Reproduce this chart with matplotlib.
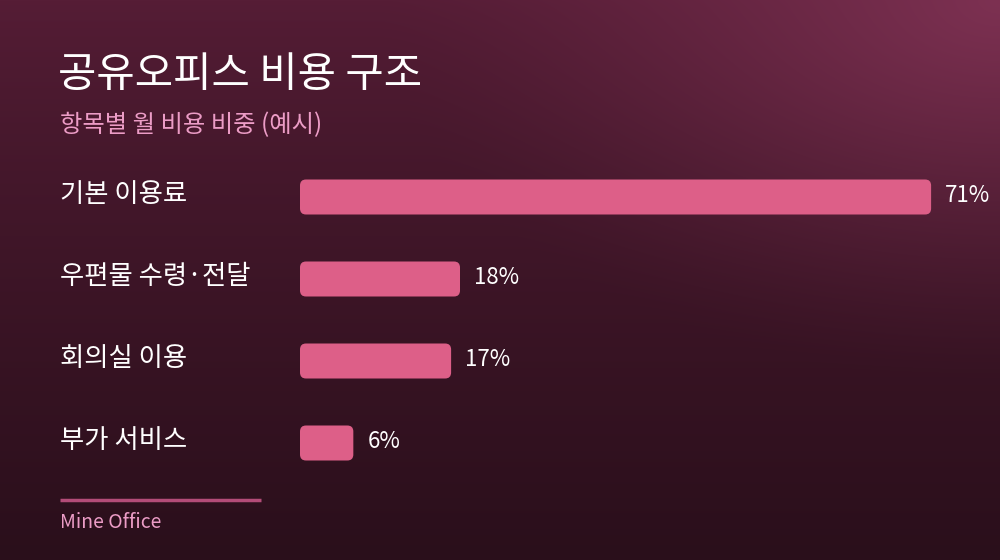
import numpy as np
import matplotlib
matplotlib.use("Agg")
import matplotlib.pyplot as plt
import matplotlib.transforms as mtransforms
from matplotlib.patches import FancyBboxPatch

plt.rcParams['font.family'] = ['Noto Sans CJK KR', 'DejaVu Sans']

# data
categories = ["기본 이용료", "우편물 수령·전달", "회의실 이용", "부가 서비스"]
shares = [71, 18, 17, 6]
title = "공유오피스 비용 구조"
subtitle = "항목별 월 비용 비중 (예시)"
source = "Mine Office"

W, H = 1000, 560
fig = plt.figure(figsize=(W / 100, H / 100), dpi=100)

# background: vertical gradient + glow at the top right
bg = fig.add_axes([0, 0, 1, 1])
yy, xx = np.mgrid[0:H, 0:W]
top = np.array([0x56, 0x1d, 0x36]) / 255
bottom = np.array([0x2a, 0x0f, 0x1b]) / 255
t = (yy / H)[..., None] ** 0.8
img = top * (1 - t) + bottom * t
glow = np.array([0x7d, 0x31, 0x52]) / 255
d = np.sqrt(((xx - W) / 620.0) ** 2 + (yy / 380.0) ** 2)
g = np.clip(1 - d, 0, 1)[..., None] ** 1.4
img = img * (1 - g) + glow * g
bg.imshow(img, extent=[0, W, H, 0], aspect='auto')
bg.set_xlim(0, W)
bg.set_ylim(H, 0)
bg.axis('off')

# title, subtitle, footer
fig.text(58 / W, 1 - 75 / H, title, color='white', fontsize=30, va='center', ha='left')
fig.text(60 / W, 1 - 125 / H, subtitle, color='#ec9cc6', fontsize=17.5, va='center', ha='left')
bg.plot([60, 261], [500, 500], color='#b34c78', lw=2.5, solid_capstyle='butt')
fig.text(60 / W, 1 - 523 / H, source, color='#ec9cc6', fontsize=14, va='center', ha='left')

# bars
ax = fig.add_axes([300 / W, (H - 484) / H, 700 / W, 328 / H])
ax.patch.set_alpha(0)
ax.set_xlim(0, 78.75)
ax.set_ylim(3.5, -0.5)
ax.axis('off')

px_x = 78.75 / 700
px_y = 4 / 328
bar_h = 35 * px_y
label_tr = mtransforms.blended_transform_factory(ax.transAxes, ax.transData)
for i, (cat, v) in enumerate(zip(categories, shares)):
    p = FancyBboxPatch((0, i - bar_h / 2), v, bar_h,
                       boxstyle="round,pad=0,rounding_size=%f" % (6 * px_x),
                       mutation_aspect=px_y / px_x,
                       facecolor='#dd5f88', edgecolor='none')
    ax.add_patch(p)
    ax.text(v + 14 * px_x, i - 1 * px_y, f"{v}%", color='white', fontsize=16,
            va='center', ha='left')
    ax.text(-240 / 700, i - 2 * px_y, cat, color='white', fontsize=19,
            va='center', ha='left', transform=label_tr)

fig.savefig("out.png", dpi=100)
